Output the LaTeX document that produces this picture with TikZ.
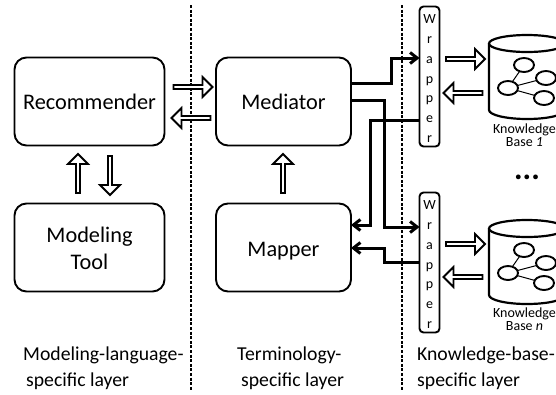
\documentclass[tikz,border=0pt]{standalone}
\usepackage{fontspec}
\setmainfont{Carlito}
\usetikzlibrary{arrows.meta,shapes.geometric,shapes.arrows}
\tikzset{
 box/.style={draw,line width=1.9pt,rounded corners=12pt,align=center,font=\fontsize{22.3}{27}\selectfont,inner sep=0pt,outer sep=0pt},
 wrap/.style={draw,line width=1.9pt,rounded corners=4pt,minimum width=20pt,minimum height=140pt,inner sep=0pt,outer sep=0pt,align=center,font=\fontsize{14}{19.7}\selectfont},
 thick arrow/.style={line width=3pt,-{Straight Barb[length=7pt,width=11pt,line width=3pt]}},
 layer/.style={anchor=west,align=left,font=\fontsize{19.7}{26}\selectfont,inner sep=0pt},
 sep/.style={line width=1.3pt,dash pattern=on 3pt off 1.6pt},
 harrow/.style={draw,line width=1.8pt,fill=white,single arrow,single arrow head extend=3.6pt,single arrow tip angle=90,minimum height=#1,minimum width=20pt,inner sep=0pt,outer sep=0pt},
 kb/.style={font=\fontsize{14}{13}\selectfont,align=center,inner sep=0pt},
 inner/.style={draw,line width=1.9pt,ellipse,minimum width=20pt,minimum height=14pt,inner sep=0pt,outer sep=0pt,fill=white},
}
\begin{document}
\begin{tikzpicture}[x=1pt,y=-1pt]
\useasboundingbox (0,0) rectangle (556,394);
\draw[sep] (191,5) coordinate(s1a) -- (191,390) coordinate(s1b);
\draw[sep] (402,5) coordinate(s2a) -- (402,390) coordinate(s2b);
\node[box,minimum width=150pt,minimum height=88pt] (rec) at (89.5,101.5) {Recommender};
\node[box,minimum width=150pt,minimum height=88pt] (tool) at (89.5,247.5) {\rule{0pt}{17pt}Modeling\\Tool};
\node[box,minimum width=135pt,minimum height=88pt] (med) at (283.5,101.5) {Mediator};
\node[box,minimum width=135pt,minimum height=88pt,text height=17pt,text depth=0pt] (map) at (283.5,247.5) {Mapper};
\node[wrap] (w1) at (429.5,76.5) {\rule{0pt}{13pt}W\\r\\a\\p\\p\\e\\r};
\node[wrap] (w2) at (429.5,262.5) {\rule{0pt}{13pt}W\\r\\a\\p\\p\\e\\r};
% hollow arrows
\node[harrow=39pt] (a1) at (192,87) {};
\node[harrow=39pt,rotate=180] (a2) at (192,118) {};
\node[harrow=39pt,rotate=90] (a3) at (78,174.5) {};
\node[harrow=39pt,rotate=-90] (a4) at (110,174.5) {};
\node[harrow=39pt,rotate=90] (a5) at (283,174.5) {};
\node[harrow=39pt] (a6) at (464.5,59) {};
\node[harrow=39pt,rotate=180] (a7) at (464,93) {};
\node[harrow=39pt] (a8) at (464.5,244) {};
\node[harrow=39pt,rotate=180] (a9) at (464,277) {};
% connectors
\draw[thick arrow] (med.east|-0,83) -- (391,83) -- (391,58) -- (w1.west|-0,58);
\draw[thick arrow] (med.east|-0,100) -- (384,100) -- (384,227) -- (w2.west|-0,227);
\draw[thick arrow] (w1.west|-0,120) -- (370,120) -- (370,225) -- (map.east|-0,225);
\draw[thick arrow] (w2.west|-0,262) -- (384,262) -- (384,248) -- (map.east|-0,248);
% cylinders
\foreach \n/\y in {k1/0,k2/185}{
 \begin{scope}[shift={(0,\y)}]
 \draw[line width=2.2pt,fill=white] (489,43.5) -- (489,110) arc[start angle=180,end angle=360,x radius=38pt,y radius=9pt] -- (565,43.5);
 \draw[line width=2.2pt] (527,43.5) ellipse[x radius=38pt,y radius=8.5pt];
 \node[inner] (\n a) at (524,65) {};
 \node[inner] (\n b) at (508,88) {};
 \node[inner] (\n c) at (546,78) {};
 \node[inner] (\n d) at (544,98) {};
 \draw[line width=1pt] (\n b) -- (\n a);
 \draw[line width=1pt] (\n b) -- (\n c);
 \draw[line width=1pt] (\n b) -- (\n d);
 \end{scope}
}
\node[kb] (l1) at (524.5,135.5) {Knowledge\\Base \textit{1}};
\node[kb] (l2) at (524.5,319.5) {Knowledge\\Base \textit{n}};
\node[font=\bfseries\fontsize{32}{32}\selectfont,inner sep=0pt] (dots) at (527,177) {...};
\node[layer] (t1) at (23,368) {Modeling-language-\\\hspace*{3pt}specific layer};
\node[layer] (t2) at (237,368) {Terminology-\\\hspace*{4pt}specific layer};
\node[layer] (t3) at (417,368) {Knowledge-base-\\specific layer};
\end{tikzpicture}
\end{document}
